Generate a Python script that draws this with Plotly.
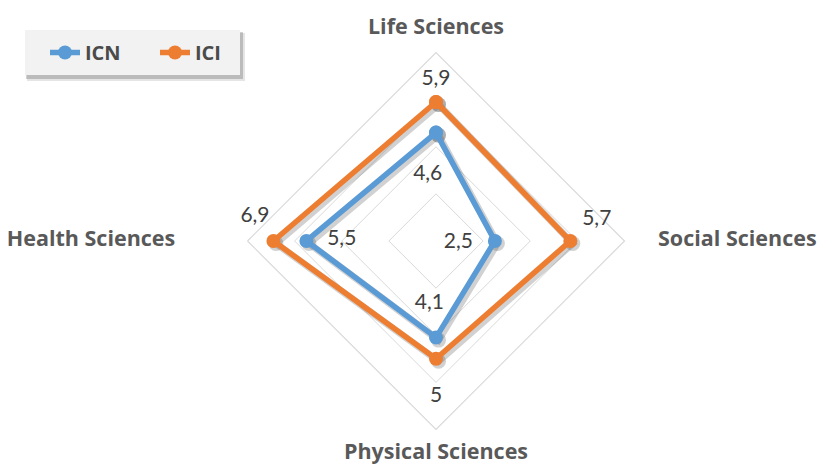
import plotly.graph_objects as go

# ---------------- data ----------------
categories = ["Life Sciences", "Social Sciences", "Physical Sciences", "Health Sciences"]
icn_values = [4.6, 2.5, 4.1, 5.5]
ici_values = [5.9, 5.7, 5.0, 6.9]
series_names = ["ICN", "ICI"]
grid_ticks = [2, 4, 6]
radial_max = 8

# ---------------- style ----------------
BLUE = "#5b9bd5"
ORANGE = "#ed7d31"
GRID = "#d9d9d9"
FONT = "Lato"
FONT_B = "Open Sans"
W, H = 819, 465
CX, CY, R = 436, 241, 188.5          # plot centre / radius in pixels

# data-label placement (radius in data units, angle offset in degrees)
ici_label_r = [6.85, 6.88, 6.62, 7.75]
ici_label_dt = [0, -7.4, 0, 7.6]
icn_label_r = [2.85, 0.95, 2.66, 4.0]
icn_label_dt = [-7.1, 4.4, 6.1, 1.0]
# category labels: anchored at outer vertex, pushed out by an invisible marker
cat_label_pos = ["top center", "middle right", "bottom center", "middle left"]
cat_label_pad = [19.9, 52, 19.0, 114]


def fmt(v):
    return f"{v:g}".replace(".", ",")


def dom(dx=0, dy=0):
    return dict(x=[(CX - R + dx) / W, (CX + R + dx) / W],
                y=[1 - (CY + R + dy) / H, 1 - (CY - R + dy) / H])


cat_theta = [i * 360 / len(categories) for i in range(len(categories))]
closed = lambda a: list(a) + [a[0]]

fig = go.Figure()

# subplot 1: grid only
fig.add_trace(go.Scatterpolar(r=[0] * 4, theta=categories, mode="markers",
                              marker=dict(size=1, opacity=0), showlegend=False,
                              hoverinfo="skip", subplot="polar"))

# subplot 2: soft shadows
for vals in (icn_values, ici_values):
    fig.add_trace(go.Scatterpolar(r=closed(vals), theta=closed(categories),
                                  mode="lines+markers",
                                  line=dict(color="rgba(70,70,70,0.25)", width=7),
                                  marker=dict(size=15, color="rgba(70,70,70,0.25)"),
                                  showlegend=False, hoverinfo="skip", subplot="polar2"))

# subplot 3: series
for name, vals, col in zip(series_names, (icn_values, ici_values), (BLUE, ORANGE)):
    fig.add_trace(go.Scatterpolar(r=closed(vals), theta=closed(categories), name=name,
                                  mode="lines+markers",
                                  line=dict(color=col, width=5.5),
                                  marker=dict(size=14, color=col),
                                  subplot="polar3"))

# subplot 4: data labels + category labels
fig.add_trace(go.Scatterpolar(
    r=ici_label_r + icn_label_r,
    theta=[t + d for t, d in zip(cat_theta, ici_label_dt)] + [t + d for t, d in zip(cat_theta, icn_label_dt)],
    text=[fmt(v) for v in ici_values] + [fmt(v) for v in icn_values],
    mode="text", textposition="middle center", cliponaxis=False,
    textfont=dict(family=FONT, size=21, color="#404040"),
    showlegend=False, hoverinfo="skip", subplot="polar4"))
fig.add_trace(go.Scatterpolar(
    r=[radial_max] * len(categories), theta=cat_theta, text=categories,
    mode="markers+text", textposition=cat_label_pos, cliponaxis=False,
    marker=dict(size=cat_label_pad, opacity=0, color="white"),
    textfont=dict(family=FONT_B, size=21.5, color="#595959", weight="bold"),
    showlegend=False, hoverinfo="skip", subplot="polar4"))

cat_polar = dict(
    bgcolor="rgba(0,0,0,0)", gridshape="linear",
    angularaxis=dict(rotation=90, direction="clockwise", showgrid=False,
                     showline=False, showticklabels=False, ticks=""),
    radialaxis=dict(range=[0, radial_max], showgrid=False, showline=False,
                    showticklabels=False, ticks=""),
)

grid_polar = dict(
    domain=dom(), bgcolor="rgba(0,0,0,0)", gridshape="linear",
    angularaxis=dict(rotation=90, direction="clockwise", showgrid=False,
                     showline=True, linecolor=GRID, linewidth=1.2,
                     showticklabels=False, ticks=""),
    radialaxis=dict(range=[0, radial_max], tickvals=grid_ticks, showgrid=True,
                    gridcolor=GRID, gridwidth=1.2, showline=False,
                    showticklabels=False, ticks=""),
)

legend_box = (25, 30, 240, 75)  # px: left, top, right, bottom


def prect(x0, y0, x1, y1, fill):
    return dict(type="rect", xref="paper", yref="paper",
                x0=x0 / W, x1=x1 / W, y0=1 - y1 / H, y1=1 - y0 / H,
                fillcolor=fill, line=dict(width=0), layer="below")


lx0, ly0, lx1, ly1 = legend_box
fig.update_layout(
    width=W, height=H,
    margin=dict(l=0, r=0, t=0, b=0),
    paper_bgcolor="white", plot_bgcolor="white",
    polar=grid_polar,
    polar2=dict(cat_polar, domain=dom(2.5, 2.5)),
    polar3=dict(cat_polar, domain=dom()),
    polar4=dict(domain=dom(), bgcolor="rgba(0,0,0,0)",
                angularaxis=dict(type="linear", thetaunit="degrees", rotation=90,
                                 direction="clockwise", visible=False),
                radialaxis=dict(range=[0, radial_max], visible=False)),
    legend=dict(orientation="h", x=(lx0 + 20) / W, y=1 - (ly0 + ly1) / 2 / H,
                xanchor="left", yanchor="middle",
                bgcolor="rgba(0,0,0,0)", borderwidth=0, entrywidth=65,
                font=dict(family=FONT_B, size=20, color="#4a4a4a", weight="bold")),
    shapes=[
        prect(lx0 + 2, ly0 + 3, lx1 + 5, ly1 + 6, "rgba(0,0,0,0.10)"),
        prect(lx0 + 1, ly0 + 2, lx1 + 3, ly1 + 4, "rgba(0,0,0,0.18)"),
        prect(lx0, ly0, lx1, ly1, "#f2f2f2"),
    ],
    showlegend=True,
)

fig.write_html("out.html", config={"displayModeBar": False},
               post_script="document.body.style.margin='0';")
